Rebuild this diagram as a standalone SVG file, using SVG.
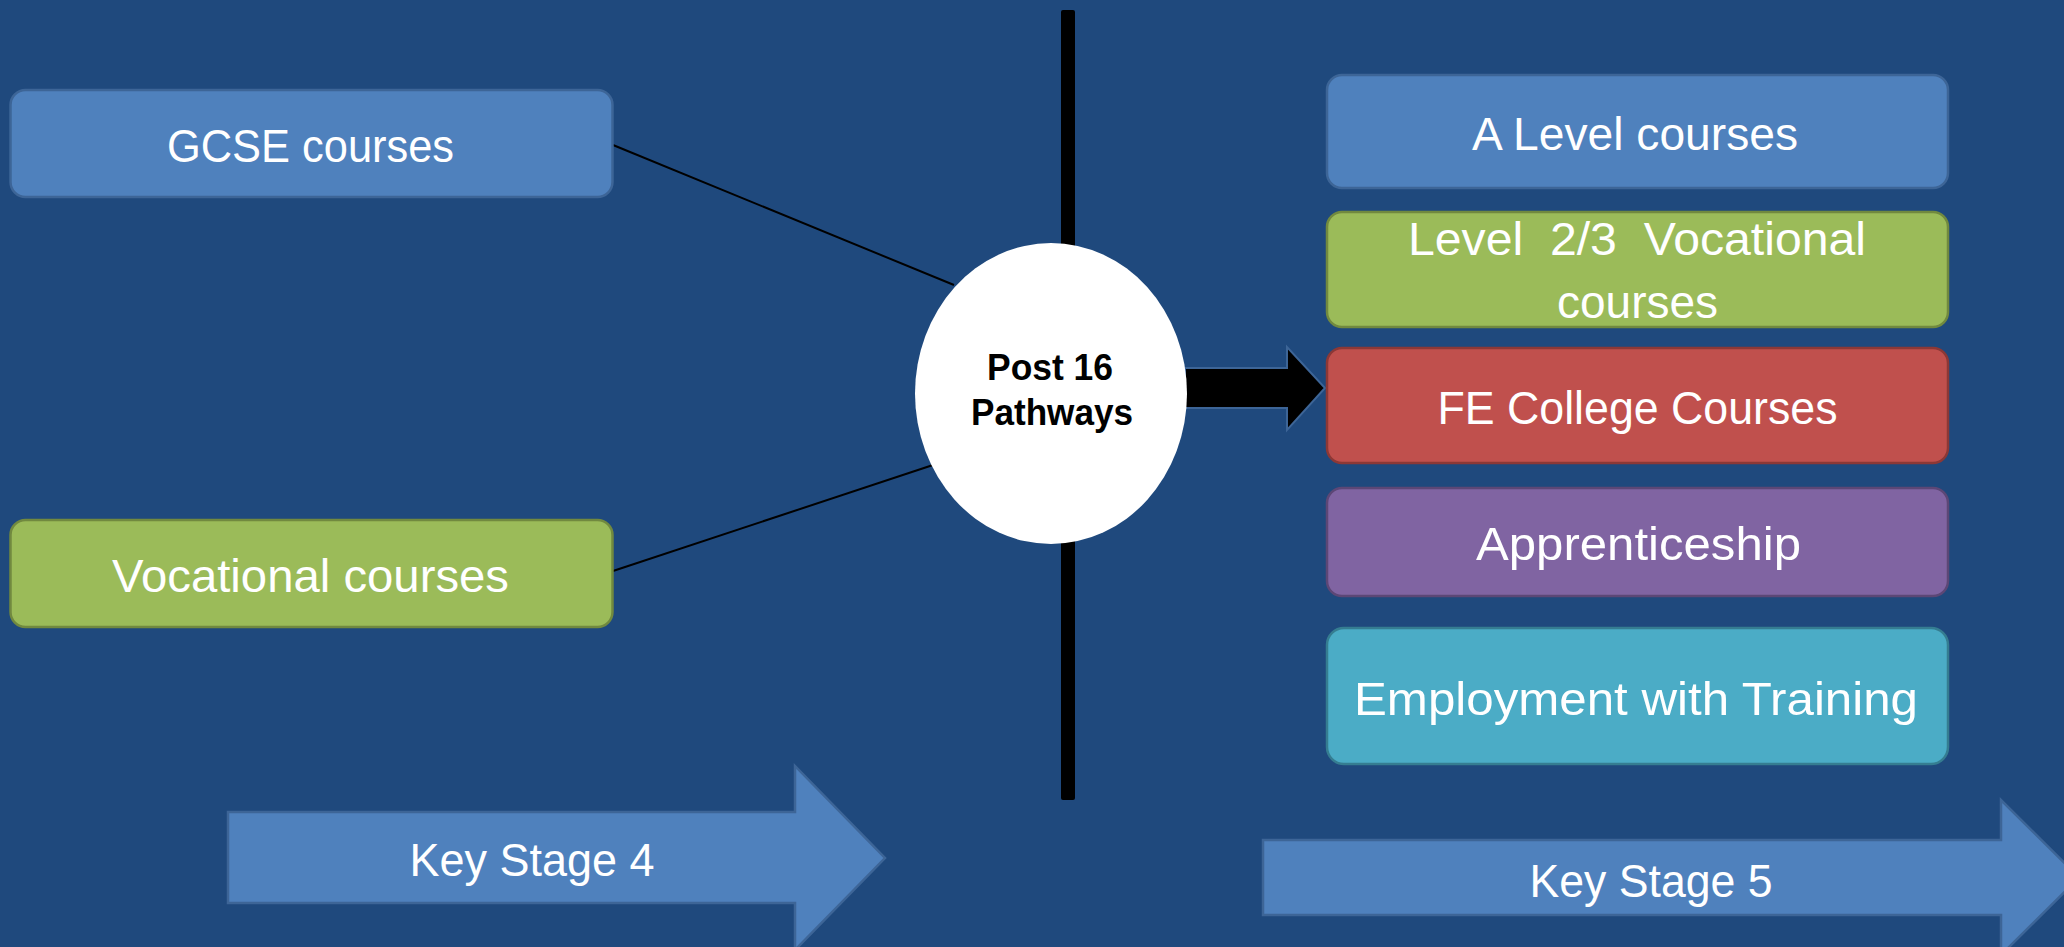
<svg xmlns="http://www.w3.org/2000/svg" width="2064" height="947" viewBox="0 0 2064 947">
<style>
.lbl{font-family:"Liberation Sans",Arial,sans-serif;font-size:47px;fill:#ffffff;text-anchor:middle;white-space:pre}
.bold{font-family:"Liberation Sans",Arial,sans-serif;font-size:36px;font-weight:bold;fill:#000000;text-anchor:middle}
.box{stroke-width:2.5}
.blue{fill:#4F81BD;stroke:#3D6597}
.green{fill:#9BBB59;stroke:#71893F}
.red{fill:#C0504D;stroke:#8C3836}
.purple{fill:#8064A2;stroke:#5C4776}
.teal{fill:#4BACC6;stroke:#357D91}
.conn{stroke:#000000;stroke-width:2;fill:none}
.bigarrow{fill:#4F81BD;stroke:#3D6597;stroke-width:2.5}
</style>
<rect x="0" y="0" width="2064" height="947" fill="#1F497D"/>

<g id="divider">
<rect x="1061" y="10" width="14" height="790" rx="2" fill="#000000"/>
</g>

<g id="connectors">
<line class="conn" x1="613" y1="145" x2="954" y2="285"/>
<line class="conn" x1="613" y1="571" x2="933" y2="465"/>
<path d="M1185,368 L1287,368 L1287,347 L1325,388 L1287,430 L1287,408 L1185,408 Z" fill="#000000" stroke="#3D6597" stroke-width="2"/>
</g>

<g id="node-gcse">
<rect class="box blue" x="10.5" y="90" width="602" height="107" rx="15"/>
<text class="lbl" x="310.5" y="162" textLength="287" lengthAdjust="spacingAndGlyphs">GCSE courses</text>
</g>

<g id="node-vocational">
<rect class="box green" x="10.5" y="520" width="602" height="107" rx="15"/>
<text class="lbl" x="310.5" y="592" textLength="397" lengthAdjust="spacingAndGlyphs">Vocational courses</text>
</g>

<g id="node-post16">
<ellipse cx="1051" cy="393.5" rx="136" ry="150.5" fill="#ffffff"/>
<text class="bold" x="1050" y="380" textLength="126" lengthAdjust="spacingAndGlyphs">Post 16</text>
<text class="bold" x="1052" y="425" textLength="162" lengthAdjust="spacingAndGlyphs">Pathways</text>
</g>

<g id="node-alevel">
<rect class="box blue" x="1327" y="75" width="621" height="113" rx="15"/>
<text class="lbl" x="1635" y="150" textLength="326" lengthAdjust="spacingAndGlyphs">A Level courses</text>
</g>

<g id="node-level23">
<rect class="box green" x="1327" y="212" width="621" height="115" rx="15"/>
<text class="lbl" x="1637" y="255" textLength="458" lengthAdjust="spacingAndGlyphs" xml:space="preserve">Level  2/3  Vocational</text>
<text class="lbl" x="1637.5" y="318" textLength="161" lengthAdjust="spacingAndGlyphs">courses</text>
</g>

<g id="node-fe">
<rect class="box red" x="1327" y="348" width="621" height="115" rx="15"/>
<text class="lbl" x="1637.5" y="424" textLength="400" lengthAdjust="spacingAndGlyphs">FE College Courses</text>
</g>

<g id="node-apprenticeship">
<rect class="box purple" x="1327" y="488" width="621" height="108" rx="15"/>
<text class="lbl" x="1638.5" y="560" textLength="325" lengthAdjust="spacingAndGlyphs">Apprenticeship</text>
</g>

<g id="node-employment">
<rect class="box teal" x="1327" y="628" width="621" height="136" rx="17"/>
<text class="lbl" x="1636" y="715" textLength="564" lengthAdjust="spacingAndGlyphs">Employment with Training</text>
</g>

<g id="node-ks4">
<path class="bigarrow" d="M228,812 L795,812 L795,766 L885,858 L795,950 L795,903 L228,903 Z"/>
<text class="lbl" x="532" y="876" textLength="245" lengthAdjust="spacingAndGlyphs">Key Stage 4</text>
</g>

<g id="node-ks5">
<path class="bigarrow" d="M1263,840 L2001,840 L2001,800 L2079,877.5 L2001,955 L2001,915 L1263,915 Z"/>
<text class="lbl" x="1651" y="897" textLength="243" lengthAdjust="spacingAndGlyphs">Key Stage 5</text>
</g>
</svg>
